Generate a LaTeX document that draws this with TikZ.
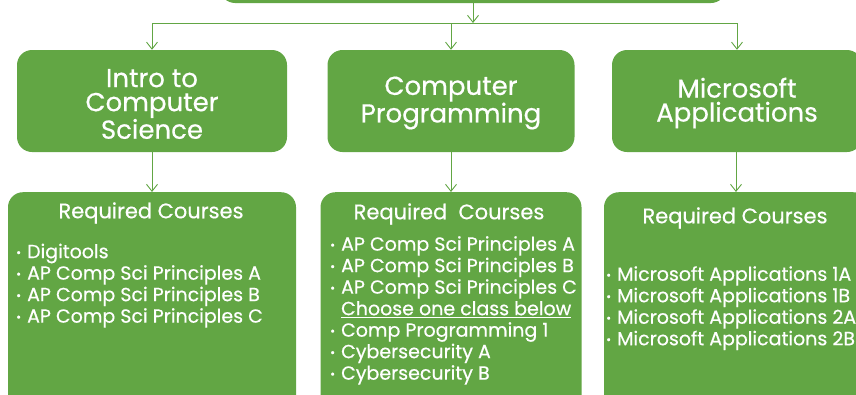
\documentclass[tikz,border=0pt]{standalone}
\usepackage{fontspec}
\setmainfont{Poppins}[FakeBold=0.5]
\usetikzlibrary{arrows.meta}
\definecolor{cgreen}{RGB}{98,166,68}
\newcommand{\itm}{{\fontsize{12}{12}\selectfont\raisebox{1.5pt}{•}}\hspace{6pt}}

\begin{document}
\begin{tikzpicture}[x=1pt,y=-1pt,
    greenbox/.style={fill=cgreen, rounded corners=15pt, inner sep=0pt},
    headtext/.style={text=white, align=center, inner sep=0pt, font=\fontsize{26}{24}\selectfont},
    listtext/.style={text=white, align=left, inner sep=0pt, font=\fontsize{19}{21.5}\selectfont},
    titletext/.style={text=white, inner sep=0pt, font=\fontsize{21}{24}\selectfont},
    conn/.style={draw=cgreen, line width=0.9pt, -{Straight Barb[length=7pt,width=11pt]}},
    joint/.style={draw=cgreen, line width=0.9pt}]
    \useasboundingbox (0,0) rectangle (856,394);
    \clip (0,0) rectangle (856,394);

    % top box (cut off)
    \node[greenbox, minimum width=506pt, minimum height=30pt] (top) at (473,-12) {};
    \coordinate (split) at (473,23);

    % programmes
    \node[greenbox, minimum width=270pt, minimum height=102pt] (intro) at (152,101) {};
    \node[greenbox, minimum width=247pt, minimum height=102pt] (prog) at (451,101) {};
    \node[greenbox, minimum width=250pt, minimum height=102pt] (ms) at (737,101) {};
    \node[headtext, yshift=-3pt] (introtext) at (intro.center) {Intro to\\Computer\\Science};
    \node[headtext, yshift=-2pt] (progtext) at (prog.center) {Computer\\Programming};
    \node[headtext, yshift=-2pt] (mstext) at (ms.center) {Microsoft\\Applications};

    % required courses
    \node[greenbox, minimum width=288pt, minimum height=230pt, anchor=north] (introreq) at (152,192) {};
    \node[greenbox, minimum width=261pt, minimum height=230pt, anchor=north] (progreq) at (451,192) {};
    \node[greenbox, minimum width=264pt, minimum height=230pt, anchor=north] (msreq) at (736,192) {};

    \node[titletext] (introtitle) at (151,213) {Required Courses};
    \node[titletext] (progtitle) at (449,214) {Required\ \ Courses};
    \node[titletext] (mstitle) at (735,218) {Required Courses};

    \node[listtext, anchor=north west] (introlist) at (16,243.5) {%
        \itm Digitools\\
        \itm AP Comp Sci Principles A\\
        \itm AP Comp Sci Principles B\\
        \itm AP Comp Sci Principles C};
    \node[listtext, anchor=north west] (proglist) at (330,236) {%
        \itm AP Comp Sci Principles A\\
        \itm AP Comp Sci Principles B\\
        \itm AP Comp Sci Principles C\\
        \phantom{\itm}\underline{Choose one class below}\\
        \itm Comp Programming 1\\
        \itm Cybersecurity A\\
        \itm Cybersecurity B};
    \node[listtext, anchor=north west] (mslist) at (606,266) {%
        \itm Microsoft Applications 1A\\
        \itm Microsoft Applications 1B\\
        \itm Microsoft Applications 2A\\
        \itm Microsoft Applications 2B};

    % connectors
    \draw[conn] (top.south) -- (split);
    \draw[joint] (intro.north |- split) -- (ms.north |- split);
    \draw[conn] (intro.north |- split) -- (intro.north);
    \draw[conn] (prog.north |- split) -- (prog.north);
    \draw[conn] (ms.north |- split) -- (ms.north);
    \draw[conn] (intro.south) -- (introreq.north);
    \draw[conn] (prog.south) -- (progreq.north);
    \draw[conn] (ms.south -| msreq.north) -- (msreq.north);
\end{tikzpicture}
\end{document}
